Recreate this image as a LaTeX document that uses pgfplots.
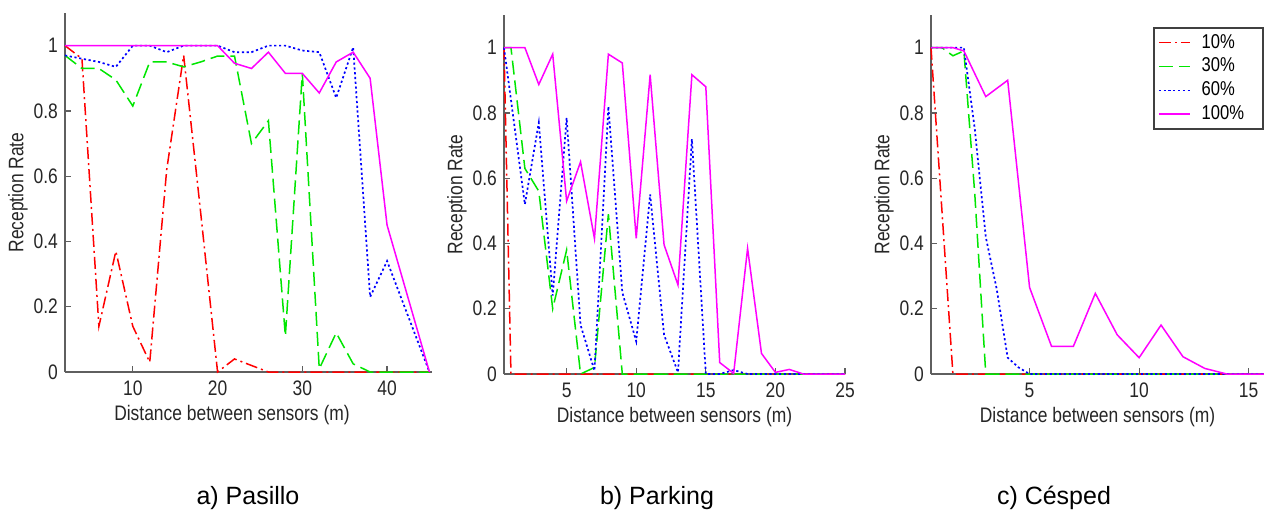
\documentclass[border=0pt]{standalone}
\usepackage{fontspec}
\setmainfont{Liberation Sans}
\newfontfamily\narrowsans[FakeStretch=0.83]{Liberation Sans}
\usepackage{pgfplots}
\pgfplotsset{compat=1.18}

\definecolor{cred}{RGB}{255,0,0}
\definecolor{cgreen}{RGB}{0,230,0}
\definecolor{cblue}{RGB}{0,0,255}
\definecolor{cmag}{RGB}{255,0,255}
\definecolor{axgray}{RGB}{95,95,95}

\pgfplotsset{
  panel/.style={
    scale only axis,
    anchor=south west,
    height=179.5pt,
    ymin=0, ymax=1.1,
    ytick={0,0.2,0.4,0.6,0.8,1},
    axis lines*=left,
    axis line style={-, draw=axgray, line width=1pt},
    tick style={draw=axgray, line width=0.6pt},
    major tick length=3pt,
    tick align=inside,
    clip=false,
    /pgf/number format/assume math mode=true,
    tick label style={font=\narrowsans\fontsize{10.5}{12}\selectfont, text=black!85},
    xticklabel style={yshift=-1pt},
    label style={font=\narrowsans\fontsize{10.5}{12}\selectfont, text=black!85},
    xlabel={Distance between sensors (m)},
    ylabel={Reception Rate},
    % rotated label: yshift moves it to the left
    ylabel style={at={(axis description cs:0,0.5)}, anchor=center, yshift=23.5pt},
    xlabel style={at={(axis description cs:0.5,0)}, anchor=center, yshift=-21.5pt},
    every axis plot/.append style={line width=0.75pt},
  },
  s10/.style={cred, dash pattern=on 6pt off 2pt on 1pt off 2pt},
  s30/.style={cgreen, dash pattern=on 7pt off 3pt},
  s60/.style={cblue, line width=0.85pt, dash pattern=on 1.1pt off 1.3pt},
  s100/.style={cmag, solid},
}

\begin{document}
\begin{tikzpicture}
\useasboundingbox (0,0) rectangle (632pt,258pt);

% a) Pasillo
\begin{axis}[panel, at={(32.5pt,72pt)}, width=183.5pt,
  xmin=2, xmax=45.3, xtick={10,20,30,40},
  xlabel style={at={(axis description cs:0.455,0)}}]
\addplot[s10] coordinates {
  (2,1) (4,0.96) (6,0.14) (8,0.37) (10,0.14) (12,0.03) (14,0.62) (16,0.97)
  (18,0.49) (20,0) (22,0.04) (24,0.02) (26,0) (28,0) (30,0) (32,0) (34,0)
  (36,0) (38,0) (40,0) (42,0) (44,0) (45,0)
};
\addplot[s30] coordinates {
  (2,0.97) (4,0.93) (6,0.93) (8,0.895) (10,0.815) (12,0.95) (14,0.95)
  (16,0.935) (18,0.95) (20,0.968) (22,0.968) (24,0.70) (26,0.77) (28,0.11)
  (30,0.915) (32,0.01) (34,0.12) (36,0.025) (38,0) (40,0) (42,0) (44,0) (45,0)
};
\addplot[s60] coordinates {
  (2,0.97) (4,0.96) (6,0.95) (8,0.935) (10,1) (12,1) (14,0.98) (16,1)
  (18,1) (20,1) (22,0.98) (24,0.98) (26,1) (28,1) (30,0.985) (32,0.98)
  (34,0.84) (36,0.995) (38,0.23) (40,0.34) (45,0)
};
\addplot[s100] coordinates {
  (2,1) (4,1) (6,1) (8,1) (10,1) (12,1) (14,1) (16,1) (18,1) (20,1)
  (22,0.946) (24,0.93) (26,0.98) (28,0.915) (30,0.915) (32,0.855)
  (34,0.95) (36,0.98) (38,0.9) (40,0.45) (45,0)
};
\end{axis}

% b) Parking
\begin{axis}[panel, at={(252pt,71pt)}, width=170.5pt,
  xmin=0.5, xmax=25, xtick={5,10,15,20,25}]
\addplot[s10] coordinates {
  (0.5,1) (1,0) (2,0) (5,0) (10,0) (15,0) (20,0) (25,0)
};
\addplot[s30] coordinates {
  (0.5,1) (1,1) (2,0.63) (3,0.56) (4,0.2) (5,0.38) (6,0) (7,0.02) (8,0.49)
  (9,0) (10,0) (15,0) (20,0) (25,0)
};
\addplot[s60] coordinates {
  (0.5,1) (2,0.52) (3,0.77) (4,0.24) (5,0.785) (6,0.15) (7,0.01) (8,0.82)
  (9,0.25) (10,0.1) (11,0.55) (12,0.12) (13,0.005) (14,0.72) (15,0) (16,0)
  (17,0.012) (18,0) (19,0) (20,0) (25,0)
};
\addplot[s100] coordinates {
  (0.5,1) (1,1) (2,1) (3,0.887) (4,0.98) (5,0.53) (6,0.65) (7,0.415)
  (8,0.98) (9,0.953) (10,0.416) (11,0.917) (12,0.396) (13,0.273) (14,0.917)
  (15,0.88) (16,0.035) (17,0.002) (18,0.385) (19,0.063) (20,0.005)
  (21,0.014) (22,0) (23,0) (24,0) (25,0)
};
\end{axis}

% c) Cesped
\begin{axis}[panel, at={(465.5pt,71pt)}, width=166.5pt,
  xmin=0.5, xmax=15.7, xtick={5,10,15},
  legend style={at={(0.667,0.967)}, anchor=north west, draw=black!75,
    line width=1pt, fill=white, inner xsep=2pt, inner ysep=1.5pt,
    font=\narrowsans\fontsize{10}{12}\selectfont,
    nodes={inner xsep=2.5pt, inner ysep=1.7pt}, cells={anchor=west},
    /tikz/every odd column/.append style={column sep=3pt}},
  legend image code/.code={\draw[#1, line width=0.75pt] (0pt,0pt) -- (15.5pt,0pt);}]
\addplot[s10] coordinates {
  (0.5,1) (1,0.5) (1.5,0) (2,0) (5,0) (10,0) (15,0) (15.7,0)
};
\addlegendentry{\makebox[26pt][l]{10\%}}
\addplot[s30] coordinates {
  (0.5,1) (1,1) (1.5,0.975) (2,0.99) (2.5,0.55) (3,0) (4,0) (5,0) (10,0)
  (15,0) (15.7,0)
};
\addlegendentry{\makebox[26pt][l]{30\%}}
\addplot[s60] coordinates {
  (0.5,1) (1,1) (1.5,1) (2,1) (2.5,0.75) (3,0.42) (3.5,0.26) (4,0.05)
  (4.5,0.02) (5,0) (10,0) (15,0) (15.7,0)
};
\addlegendentry{\makebox[26pt][l]{60\%}}
\addplot[s100] coordinates {
  (0.5,1) (1,1) (1.5,1) (2,0.99) (3,0.85) (4,0.9) (5,0.265) (6,0.085)
  (7,0.085) (8,0.247) (9,0.12) (10,0.05) (11,0.15) (12,0.053) (13,0.017)
  (14,0) (15,0) (15.7,0)
};
\addlegendentry{\makebox[26pt][l]{100\%}}
\end{axis}

\node[font=\fontsize{12.5}{15}\selectfont] at (124pt,9pt) {a) Pasillo};
\node[font=\fontsize{12.5}{15}\selectfont] at (328.5pt,9pt) {b) Parking};
\node[font=\fontsize{12.5}{15}\selectfont] at (527pt,9pt) {c) Césped};
\end{tikzpicture}
\end{document}
